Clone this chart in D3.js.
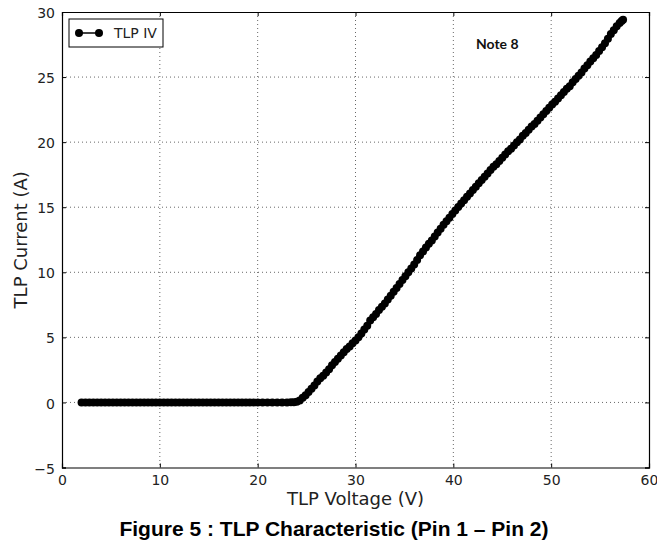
<!DOCTYPE html>
<html>
<head>
<meta charset="utf-8">
<script src="https://cdn.jsdelivr.net/npm/d3@7"></script>
<style>
  body { margin: 0; background: #fff; }
  svg { display: block; }
</style>
</head>
<body>
<script>
// TLP IV points, voltage (V) and current (A)
const voltage = [
  2.0, 2.4, 2.8, 3.2, 3.6, 4.0, 4.4, 4.8, 5.2, 5.6, 6.0, 6.4, 6.8, 7.2, 7.6, 8.0, 8.4, 8.8, 9.2, 9.6,
  10.0, 10.4, 10.8, 11.2, 11.6, 12.0, 12.4, 12.8, 13.2, 13.6, 14.0, 14.4, 14.8, 15.2, 15.6, 16.0, 16.4,
  16.8, 17.2, 17.6, 18.0, 18.4, 18.8, 19.2, 19.6, 20.0, 20.5, 21.0, 21.5, 22.0, 22.5, 23.0, 23.4, 23.7,
  24.0, 24.3, 24.6, 24.9, 25.2, 25.5, 25.8, 26.1, 26.4, 26.7, 27.0, 27.3, 27.6, 27.9, 28.2, 28.5, 28.8,
  29.1, 29.4, 29.7, 30.0, 30.3, 30.6, 30.9, 31.2, 31.5, 31.8, 32.1, 32.4, 32.7, 33.0, 33.3, 33.6, 33.9,
  34.2, 34.5, 34.8, 35.1, 35.4, 35.7, 36.0, 36.3, 36.6, 36.9, 37.2, 37.5, 37.8, 38.1, 38.4, 38.7, 39.0,
  39.3, 39.6, 39.9, 40.2, 40.5, 40.8, 41.1, 41.4, 41.7, 42.0, 42.3, 42.6, 42.9, 43.2, 43.5, 43.8, 44.1,
  44.4, 44.7, 45.0, 45.3, 45.6, 45.9, 46.2, 46.5, 46.8, 47.1, 47.4, 47.7, 48.0, 48.3, 48.6, 48.9, 49.2,
  49.5, 49.8, 50.1, 50.4, 50.7, 51.0, 51.3, 51.6, 51.9, 52.2, 52.5, 52.8, 53.1, 53.4, 53.7, 54.0, 54.3,
  54.6, 54.9, 55.2, 55.5, 55.8, 56.1, 56.4, 56.7, 57.0, 57.2, 57.35
];
const current = [
  0, 0, 0, 0, 0, 0, 0, 0, 0, 0, 0, 0, 0, 0, 0, 0, 0, 0, 0, 0,
  0, 0, 0, 0, 0, 0, 0, 0, 0, 0, 0, 0, 0, 0, 0, 0, 0,
  0, 0, 0, 0, 0, 0, 0, 0, 0, 0, 0, 0, 0, 0, 0, 0.01, 0.02,
  0.05, 0.15, 0.35, 0.55, 0.8, 1.05, 1.3, 1.6, 1.85, 2.05, 2.3, 2.55, 2.85, 3.1, 3.35, 3.6, 3.85,
  4.1, 4.3, 4.55, 4.75, 5.0, 5.3, 5.6, 5.9, 6.3, 6.55, 6.8, 7.1, 7.35, 7.6, 7.9, 8.2, 8.5,
  8.8, 9.1, 9.4, 9.7, 10.0, 10.3, 10.6, 10.95, 11.3, 11.6, 11.9, 12.2, 12.45, 12.75, 13.05, 13.35, 13.65,
  13.93, 14.2, 14.48, 14.75, 15.02, 15.28, 15.54, 15.8, 16.06, 16.32, 16.58, 16.84, 17.1, 17.35, 17.6, 17.85, 18.1,
  18.3, 18.55, 18.8, 19.05, 19.3, 19.5, 19.75, 20.0, 20.2, 20.5, 20.7, 20.95, 21.2, 21.4, 21.65, 21.9, 22.15,
  22.4, 22.65, 22.9, 23.1, 23.35, 23.6, 23.85, 24.1, 24.3, 24.6, 24.85, 25.1, 25.35, 25.65, 25.9, 26.2, 26.45,
  26.7, 27.0, 27.3, 27.6, 27.95, 28.3, 28.6, 28.9, 29.15, 29.3, 29.4
];
const xTicks = [0, 10, 20, 30, 40, 50, 60];
const yTicks = [-5, 0, 5, 10, 15, 20, 25, 30];

const data = voltage.map((v, i) => ({ v: v, i: current[i] }));

const W = 657, H = 543;
const margin = { left: 62, right: 8, top: 12, bottom: 75.5 };
const pw = W - margin.left - margin.right;
const ph = H - margin.top - margin.bottom;
const tickFont = "DejaVu Sans, sans-serif";

const svg = d3.select("body").append("svg")
  .attr("width", W)
  .attr("height", H);

const g = svg.append("g")
  .attr("transform", `translate(${margin.left},${margin.top})`);

const x = d3.scaleLinear().domain([0, 60]).range([0, pw]);
const y = d3.scaleLinear().domain([-5, 30]).range([ph, 0]);

// grid
g.append("g").selectAll("line").data(xTicks.slice(1, -1)).enter().append("line")
  .attr("x1", d => x(d)).attr("x2", d => x(d))
  .attr("y1", 0).attr("y2", ph)
  .attr("stroke", "#000").attr("stroke-width", 0.6)
  .attr("stroke-dasharray", "1,3");
g.append("g").selectAll("line").data(yTicks.slice(1, -1)).enter().append("line")
  .attr("y1", d => y(d)).attr("y2", d => y(d))
  .attr("x1", 0).attr("x2", pw)
  .attr("stroke", "#000").attr("stroke-width", 0.6)
  .attr("stroke-dasharray", "1,3");

// line + markers
const line = d3.line().x(d => x(d.v)).y(d => y(d.i));
g.append("path").datum(data)
  .attr("d", line)
  .attr("fill", "none")
  .attr("stroke", "#000")
  .attr("stroke-width", 1.5);
g.append("g").selectAll("circle").data(data).enter().append("circle")
  .attr("cx", d => x(d.v))
  .attr("cy", d => y(d.i))
  .attr("r", 4)
  .attr("fill", "#000");

// axes, ticks inside (matplotlib classic)
const fmt = d => d < 0 ? "\u2212" + Math.abs(d) : d;
const axB = g.append("g").attr("transform", `translate(0,${ph})`)
  .call(d3.axisBottom(x).tickValues(xTicks).tickSize(-4).tickPadding(8).tickFormat(fmt));
const axT = g.append("g")
  .call(d3.axisTop(x).tickValues(xTicks).tickSize(-4).tickFormat(""));
const axL = g.append("g")
  .call(d3.axisLeft(y).tickValues(yTicks).tickSize(-4).tickPadding(7).tickFormat(fmt));
const axR = g.append("g").attr("transform", `translate(${pw},0)`)
  .call(d3.axisRight(y).tickValues(yTicks).tickSize(-4).tickFormat(""));
[axB, axT, axL, axR].forEach(a => {
  a.select(".domain").attr("stroke", "#000").attr("stroke-width", 1.2);
  a.selectAll("text").attr("font-family", tickFont).attr("font-size", 14).attr("fill", "#222");
});
axL.selectAll("text").attr("dy", "0.4em");

// axis labels
svg.append("text")
  .attr("x", margin.left + pw / 2).attr("y", 505)
  .attr("text-anchor", "middle")
  .attr("font-family", tickFont).attr("font-size", 18).attr("fill", "#222")
  .text("TLP Voltage (V)");
svg.append("text")
  .attr("transform", `translate(27,${margin.top + ph / 2}) rotate(-90)`)
  .attr("text-anchor", "middle")
  .attr("font-family", tickFont).attr("font-size", 18).attr("fill", "#222")
  .text("TLP Current (A)");

// legend
const lg = svg.append("g").attr("transform", "translate(69,19)");
lg.append("rect").attr("width", 94).attr("height", 28)
  .attr("fill", "#fff").attr("stroke", "#000").attr("stroke-width", 1);
lg.append("line").attr("x1", 10).attr("x2", 30).attr("y1", 14).attr("y2", 14)
  .attr("stroke", "#000").attr("stroke-width", 1.5);
lg.selectAll("circle").data([10, 30]).enter().append("circle")
  .attr("cx", d => d).attr("cy", 14).attr("r", 4).attr("fill", "#000");
lg.append("text").attr("x", 45).attr("y", 19)
  .attr("font-family", tickFont).attr("font-size", 14).attr("fill", "#222")
  .text("TLP IV");

// note
svg.append("text")
  .attr("x", 476).attr("y", 49)
  .attr("font-family", "Lato, sans-serif").attr("font-weight", "bold")
  .attr("font-size", 14).attr("fill", "#111")
  .text("Note 8");

// caption
svg.append("text")
  .attr("x", 334).attr("y", 536)
  .attr("text-anchor", "middle")
  .attr("font-family", "Liberation Sans, Arial, sans-serif").attr("font-weight", "bold")
  .attr("font-size", 21).attr("fill", "#000")
  .text("Figure 5 : TLP Characteristic (Pin 1 \u2013 Pin 2)");
</script>
</body>
</html>
